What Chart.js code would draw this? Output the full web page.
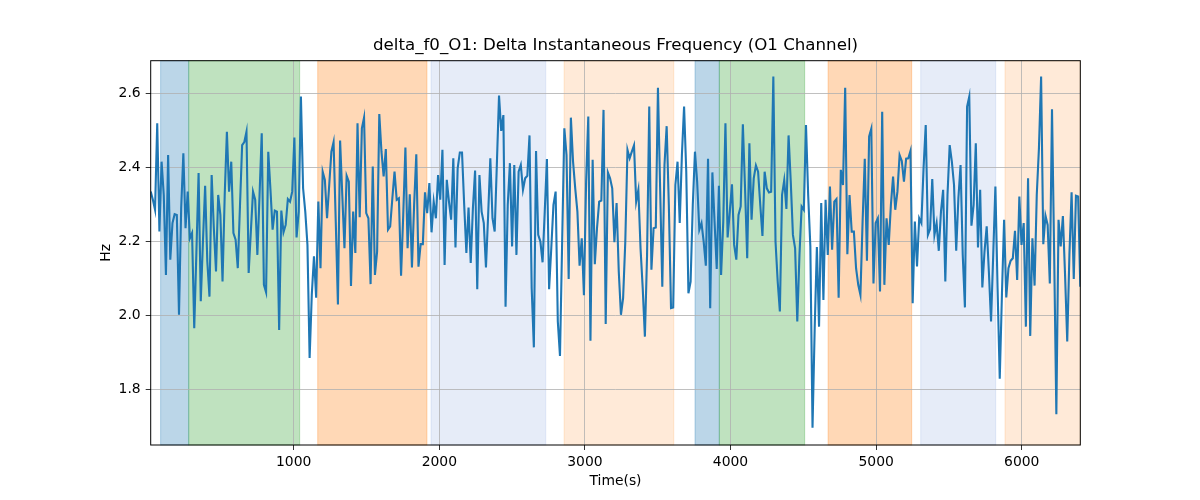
<!DOCTYPE html>
<html>
<head>
<meta charset="utf-8">
<script src="https://cdn.jsdelivr.net/npm/chart.js@4/dist/chart.umd.min.js"></script>
<style>
  body { margin: 0; background: #fff; }
</style>
</head>
<body>
<canvas id="chart1" width="1200" height="500"></canvas>
<script>
// judul dan label sumbu
const chartTitle = 'delta_f0_O1: Delta Instantaneous Frequency (O1 Channel)';
const xLabel = 'Time(s)';
const yLabel = 'Hz';

// rentang waktu data (detik)
const tStart = 18;
const tEnd = 6402;

// nilai Hz
const hz = [
  2.334, 2.312, 2.285, 2.519, 2.226, 2.415, 2.325, 2.109, 2.433, 2.150, 2.249, 2.273, 2.271, 2.001, 2.289, 2.438, 2.235, 2.334,
  2.208, 2.222, 1.965, 2.172, 2.384, 2.038, 2.199, 2.350, 2.145, 2.050, 2.379, 2.235, 2.118, 2.325, 2.271, 2.091, 2.325, 2.496,
  2.334, 2.415, 2.222, 2.204, 2.127, 2.294, 2.460, 2.468, 2.496, 2.114, 2.226, 2.334, 2.312, 2.163, 2.325, 2.492, 2.082, 2.062,
  2.442, 2.340, 2.231, 2.283, 2.280, 1.960, 2.283, 2.224, 2.244, 2.314, 2.307, 2.334, 2.480, 2.210, 2.280, 2.591, 2.343, 2.280,
  2.190, 1.884, 2.056, 2.159, 2.047, 2.307, 2.127, 2.388, 2.366, 2.262, 2.352, 2.442, 2.468, 2.253, 2.029, 2.472, 2.325, 2.181,
  2.377, 2.361, 2.079, 2.280, 2.168, 2.519, 2.265, 2.505, 2.534, 2.276, 2.262, 2.084, 2.402, 2.109, 2.172, 2.544, 2.442,
  2.375, 2.449, 2.231, 2.240, 2.316, 2.388, 2.312, 2.316, 2.107, 2.271, 2.453, 2.181, 2.327, 2.129, 2.298, 2.435, 2.131, 2.192,
  2.192, 2.332, 2.276, 2.357, 2.224, 2.307, 2.262, 2.379, 2.312, 2.447, 2.136, 2.366, 2.307, 2.258, 2.424, 2.183, 2.397, 2.440,
  2.440, 2.298, 2.168, 2.291, 2.141, 2.289, 2.391, 2.070, 2.379, 2.280, 2.249, 2.129, 2.271, 2.424, 2.262, 2.226, 2.407, 2.594,
  2.498, 2.541, 2.023, 2.298, 2.411, 2.186, 2.406, 2.163, 2.388, 2.406, 2.339, 2.370, 2.377, 2.486, 2.073, 1.913, 2.444, 2.217,
  2.199, 2.143, 2.280, 2.422, 2.070, 2.181, 2.298, 2.334, 1.983, 1.890, 2.199, 2.505, 2.433, 2.098, 2.534, 2.415, 2.343, 2.280,
  2.134, 2.208, 2.054, 2.361, 2.537, 1.931, 2.420, 2.138, 2.235, 2.307, 2.310, 2.555, 1.976, 2.386, 2.370, 2.343, 2.197,
  2.303, 2.118, 2.001, 2.047, 2.199, 2.447, 2.424, 2.442, 2.459, 2.307, 2.339, 2.181, 2.073, 1.942, 2.163, 2.564, 2.123, 2.235,
  2.237, 2.615, 2.343, 2.077, 2.406, 2.511, 2.298, 2.019, 2.021, 2.352, 2.415, 2.249, 2.433, 2.564, 2.388, 2.059, 2.091, 2.298,
  2.442, 2.361, 2.231, 2.249, 2.199, 2.134, 2.423, 2.019, 2.386, 2.253, 2.125, 2.350, 2.109, 2.253, 2.519, 2.210, 2.280, 2.354, 2.190,
  2.150, 2.271, 2.294, 2.516, 2.343, 2.154, 2.465, 2.258, 2.370, 2.405, 2.388, 2.298, 2.214, 2.388, 2.343, 2.332, 2.334, 2.645,
  2.199, 2.091, 2.010, 2.325, 2.365, 2.287, 2.486, 2.361, 2.217, 2.181, 1.983, 2.163, 2.294, 2.285, 2.514, 2.325, 2.186, 1.696,
  1.965, 2.184, 1.969, 2.303, 2.041, 2.312, 2.163, 2.348, 2.177, 2.307, 2.314, 2.047, 2.393, 2.352, 2.615, 2.165, 2.325,
  2.226, 2.226, 2.127, 2.082, 2.055, 2.253, 2.423, 2.147, 2.483, 2.504, 2.086, 2.249, 2.262, 2.064, 2.550, 2.082, 2.262, 2.190,
  2.298, 2.375, 2.285, 2.334, 2.433, 2.417, 2.361, 2.423, 2.424, 2.444, 2.032, 2.253, 2.132, 2.262, 2.249, 2.397, 2.514, 2.217,
  2.233, 2.368, 2.217, 2.249, 2.174, 2.280, 2.339, 2.091, 2.325, 2.460, 2.415, 2.352, 2.174, 2.316, 2.406, 2.163, 2.021, 2.564,
  2.591, 2.242, 2.298, 2.465, 2.183, 2.339, 2.075, 2.172, 2.240, 2.118, 1.983, 2.163, 2.348, 2.073, 1.828, 2.055, 2.258, 2.048,
  2.127, 2.147, 2.154, 2.228, 2.095, 2.321, 2.190, 2.249, 1.969, 2.370, 1.944, 2.208, 2.080, 2.325, 2.451, 2.645, 2.192, 2.269,
  2.244, 2.086, 2.557, 2.163, 1.732, 2.258, 2.186, 2.268, 2.109, 1.929, 2.163, 2.332, 2.098, 2.323, 2.321, 2.077
];

// area berwarna (awal, akhir, warna)
const spanStart = [86, 279, 1165, 1943, 2857, 3756, 3923, 4670, 5306, 5885];
const spanEnd   = [279, 1041, 1915, 2731, 3610, 3923, 4509, 5244, 5821, 6402];
const spanColor = [
  'rgba(31,119,180,0.3)', 'rgba(44,160,44,0.3)', 'rgba(255,127,14,0.3)', 'rgba(60,110,200,0.13)', 'rgba(255,127,14,0.16)',
  'rgba(31,119,180,0.3)', 'rgba(44,160,44,0.3)', 'rgba(255,127,14,0.3)', 'rgba(60,110,200,0.13)', 'rgba(255,127,14,0.16)'
];

// label tick
const xTicks = [1000, 2000, 3000, 4000, 5000, 6000];
const yTicks = [1.8, 2.0, 2.2, 2.4, 2.6];

const font = 'DejaVu Sans';
const tStep = (tEnd - tStart) / (hz.length - 1);
const points = hz.map((v, i) => ({ x: tStart + i * tStep, y: v }));

// gambar area berwarna di bawah grid
const spanPlugin = {
    id: 'spans',
    beforeDraw(chart) {
        const ctx = chart.ctx;
        const area = chart.chartArea;
        const xs = chart.scales.x;
        ctx.save();
        spanStart.forEach((s, i) => {
            const x1 = xs.getPixelForValue(s);
            const x2 = Math.min(xs.getPixelForValue(spanEnd[i]), area.right);
            ctx.fillStyle = spanColor[i];
            ctx.fillRect(x1, area.top, x2 - x1, area.bottom - area.top);
            ctx.strokeStyle = spanColor[i];
            ctx.lineWidth = 1;
            ctx.strokeRect(x1, area.top, x2 - x1, area.bottom - area.top);
        });
        ctx.restore();
    },
    afterDatasetsDraw(chart) {
        const ctx = chart.ctx;
        const area = chart.chartArea;
        ctx.save();
        // bingkai
        ctx.strokeStyle = '#000';
        ctx.lineWidth = 1;
        ctx.strokeRect(area.left, area.top, area.right - area.left, area.bottom - area.top);
        // judul dan label sumbu
        ctx.fillStyle = '#000';
        ctx.textAlign = 'center';
        ctx.textBaseline = 'middle';
        ctx.font = '16.67px "' + font + '"';
        ctx.fillText(chartTitle, (area.left + area.right) / 2, 46);
        ctx.font = '13.9px "' + font + '"';
        ctx.fillText(xLabel, (area.left + area.right) / 2, 481);
        ctx.translate(106, (area.top + area.bottom) / 2);
        ctx.rotate(-Math.PI / 2);
        ctx.fillText(yLabel, 0, 0);
        ctx.restore();
    }
};

const ctx = document.getElementById('chart1').getContext('2d');
window.chart = new Chart(ctx, {
    type: 'line',
    data: {
        datasets: [{
            data: points,
            borderColor: '#1f77b4',
            borderWidth: 2.1,
            pointRadius: 0,
            tension: 0,
            fill: false
        }]
    },
    options: {
        responsive: false,
        animation: false,
        layout: { padding: { left: 0, right: 119.7, top: 60.7, bottom: 0 } },
        plugins: { legend: { display: false }, title: { display: false }, tooltip: { enabled: false } },
        scales: {
            x: {
                type: 'linear',
                min: tStart,
                max: tEnd,
                afterBuildTicks: (s) => { s.ticks = xTicks.map(v => ({ value: v })); },
                afterFit: (s) => { s.height = 55; },
                grid: { color: '#b0b0b0', lineWidth: 0.8, tickColor: '#000', tickLength: 5 },
                border: { display: false },
                ticks: { color: '#000', padding: 4, maxRotation: 0, font: { family: font, size: 13.9 }, callback: v => String(v) }
            },
            y: {
                min: 1.649,
                max: 2.688,
                afterBuildTicks: (s) => { s.ticks = yTicks.map(v => ({ value: v })); },
                afterFit: (s) => { s.width = 150.7; },
                grid: { color: '#b0b0b0', lineWidth: 0.8, tickColor: '#000', tickLength: 5 },
                border: { display: false },
                ticks: { color: '#000', padding: 5, font: { family: font, size: 13.9 }, callback: v => v.toFixed(1) }
            }
        }
    },
    plugins: [spanPlugin]
});
</script>
</body>
</html>
